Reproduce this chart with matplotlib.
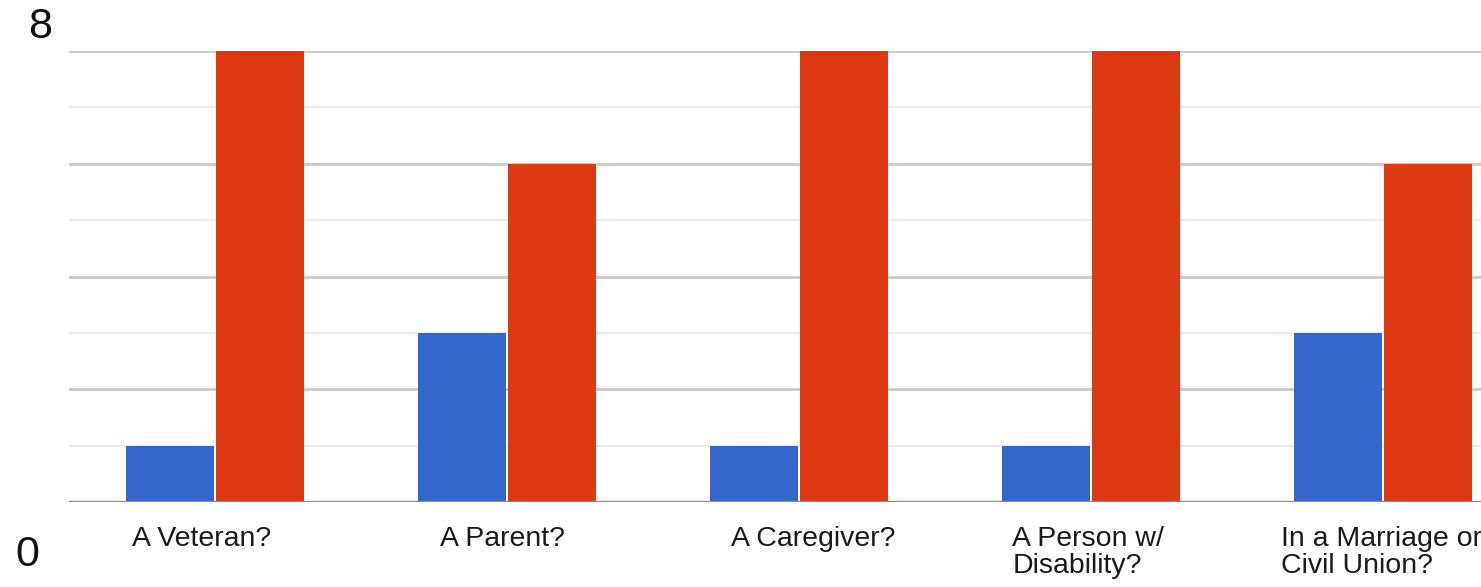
import matplotlib
matplotlib.use('Agg')
import matplotlib.pyplot as plt
import numpy as np

BLUE  = '#3366cc'
RED   = '#dc3912'
MAJOR = '#cccccc'
MINOR = '#ebebeb'
BASE  = '#8a8a8a'

categories = ['A Veteran?', 'A Parent?', 'A Caregiver?',
              'A Person w/\nDisability?', 'In a Marriage or\nCivil Union?']
yes_vals = [1, 3, 1, 1, 3]
no_vals  = [8, 6, 8, 8, 6]

# small horizontal nudges of the category labels (category units)
label_nudge = [-0.045, -0.015, 0.05, -0.01, -0.005]

plt.rcParams['font.family'] = ['Liberation Sans', 'DejaVu Sans']

W, H = 1481, 587
fig = plt.figure(figsize=(W / 100, H / 100), dpi=100, facecolor='white')
ax = fig.add_axes([69 / W, (H - 502) / H, 1460 / W, 451 / H])

x = np.arange(len(categories))
w = 0.30
ax.bar(x - 0.155, yes_vals, w, color=BLUE, edgecolor='none', zorder=3)
ax.bar(x + 0.155, no_vals,  w, color=RED,  edgecolor='none', zorder=3)

# gridlines: darker every 2, lighter in between
for v in range(1, 9):
    ax.axhline(v, color=MAJOR if v % 2 == 0 else MINOR,
               lw=2.2 if v % 2 == 0 else 1.6, zorder=1)
ax.axhline(0, color=BASE, lw=2.4, zorder=4)

ax.set_xlim(-0.5, len(categories) - 0.5)
ax.set_ylim(0, 8)
ax.set_xticks([]); ax.set_yticks([])
for s in ax.spines.values():
    s.set_visible(False)
ax.patch.set_alpha(0)

for i, lab in enumerate(categories):
    ax.text(i + label_nudge[i], -0.42, lab, ha='center', va='top',
            multialignment='left', fontsize=20.5, color='#1a1a1a',
            linespacing=1.05, clip_on=False)

fig.text(40 / W, 1 - 27 / H, '8', ha='center', va='center', fontsize=31, color='#111111')
fig.text(27 / W, 1 - 555 / H, '0', ha='center', va='center', fontsize=31, color='#111111')

fig.savefig('out.png', dpi=100, facecolor='white')
